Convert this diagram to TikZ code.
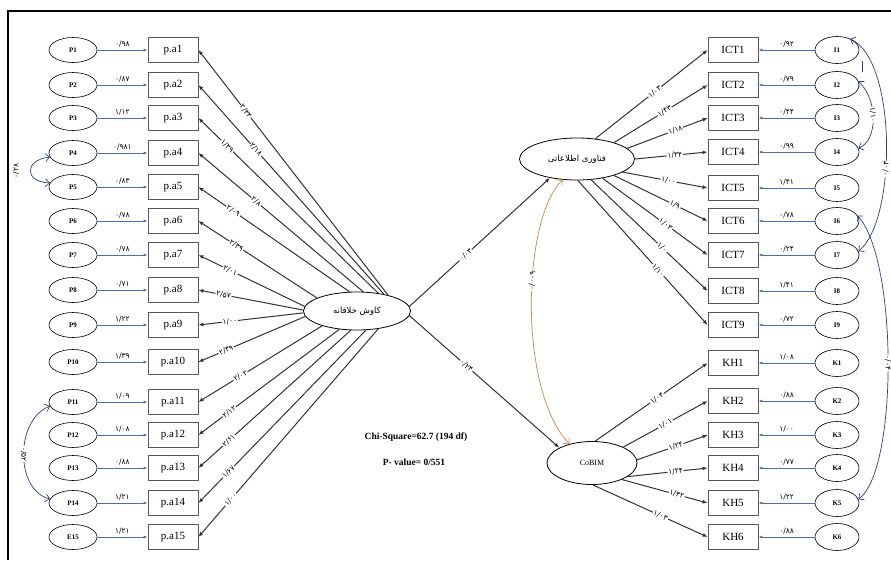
\documentclass[tikz,border=0pt]{standalone}
\usepackage{fontspec}
\setmainfont{Liberation Serif}
\newfontfamily\fa[Script=Arabic]{DejaVu Sans}
\TeXXeTstate=1
\usetikzlibrary{shapes.geometric,arrows.meta}
\definecolor{errblue}{HTML}{4A6FA8}
\definecolor{covblue}{HTML}{2E3F80}
\definecolor{covorange}{HTML}{C9854A}
\definecolor{lineg}{HTML}{333333}
\tikzset{
 err/.style={ellipse,draw=black,line width=0.6pt,minimum width=48pt,minimum height=25pt,inner sep=0pt,font=\fontsize{7}{8}\selectfont\bfseries},
 rerr/.style={err,minimum width=44pt,minimum height=27pt},
 obs/.style={rectangle,draw=black!65,line width=0.8pt,minimum width=50pt,minimum height=25pt,inner sep=0pt,font=\fontsize{11}{12}\selectfont},
 latent/.style={ellipse,draw=black,line width=0.8pt,inner sep=0pt,font=\fa\fontsize{8.5}{9}\selectfont},
 errarr/.style={draw=errblue,line width=0.8pt,-{Latex[length=4pt,width=3pt]}},
 load/.style={draw=lineg,line width=1pt,-{Latex[length=5pt,width=4pt]}},
 coef/.style={font=\fa\fontsize{7.5}{8}\selectfont,inner sep=0.8pt},
 lcoef/.style={coef,fill=white,sloped},
 cov/.style={draw=covblue,line width=0.7pt,{Straight Barb[length=4pt]}-{Straight Barb[length=4pt]}},
 ocov/.style={draw=covorange,line width=0.7pt,{Straight Barb[length=4pt]}-{Straight Barb[length=4pt]}},
}
\newcommand\lrow[7]{%
 \node[err] (e#1) at (73,#2) {#3};
 \node[obs] (pa#1) at (173,#2) {p.a#1};
 \draw[errarr] (e#1) -- node[coef,above=1.5pt]{#4} (pa#1);
 \draw[load] (cpl.#6) -- node[lcoef,pos=#7]{#5} (pa#1.east);
}
\newcommand\rrow[8]{%
 \node[obs] (#1) at (733,#2) {#1};
 \node[rerr] (r#1) at (837,#2) {#3};
 \draw[errarr] (r#1) -- node[coef,above=1.5pt]{#4} (#1);
 \draw[load] (#6.#7) -- node[lcoef,pos=#8]{#5} (#1.west);
}
\begin{document}
\begin{tikzpicture}[x=1pt,y=-1pt]
\useasboundingbox (0,0) rectangle (891,560);
\fill[white] (0,0) rectangle (891,560);
\draw[line width=1.6pt] (8,560) -- (8,11) -- (891,11);

\node[latent,minimum width=107pt,minimum height=38pt] (cpl) at (357,311) {\beginR کاوش خلاقانه\endR};
\node[latent,minimum width=115pt,minimum height=42pt] (ict) at (577,159) {\beginR فناوری اطلاعاتی\endR};
\node[latent,minimum width=90pt,minimum height=43pt,font=\fontsize{8}{9}\selectfont] (kh) at (592,463) {CoBIM};

\lrow{1}{50}{P1}{۰/۹۸}{۲/۳۴}{27}{0.75}
\lrow{2}{85}{P2}{۰/۸۷}{۲/۱۸}{32}{0.69}
\lrow{3}{118}{P3}{۱/۱۲}{۱/۳۹}{40}{0.84}
\lrow{4}{153}{P4}{۰/۹۸۱}{۲/۸}{72}{0.65}
\lrow{5}{187}{P5}{۰/۸۳}{۲/۰۹}{111}{0.77}
\lrow{6}{221}{P6}{۰/۷۸}{۲/۳۹}{162}{0.68}
\lrow{7}{255}{P7}{۰/۷۸}{۲/۰۱}{175}{0.70}
\lrow{8}{290}{P8}{۰/۷۱}{۲/۵۷}{179}{0.76}
\lrow{9}{325}{P9}{۱/۲۲}{۱/۰۰}{182}{0.70}
\lrow{10}{362}{P10}{۱/۳۹}{۲/۳۹}{186}{0.74}
\lrow{11}{402}{P11}{۱/۰۹}{۲/۰۲}{203}{0.66}
\lrow{12}{435}{P12}{۱/۰۸}{۲/۱۲}{226}{0.78}
\lrow{13}{468}{P13}{۰/۸۸}{۲/۶۱}{252}{0.80}
\lrow{14}{503}{P14}{۱/۲۱}{۱/۶۷}{295}{0.82}
\lrow{15}{537}{E15}{۱/۲۱}{۱/۰۰}{320}{0.82}

\rrow{ICT1}{50}{I1}{۰/۹۲}{۱/۰۳}{ict}{48}{0.53}
\rrow{ICT2}{85}{I2}{۰/۷۹}{۱/۴۳}{ict}{24}{0.54}
\rrow{ICT3}{118}{I3}{۰/۴۴}{۱/۱۸}{ict}{12}{0.60}
\rrow{ICT4}{152}{I4}{۰/۹۹}{۱/۳۴}{ict}{0}{0.55}
\rrow{ICT5}{188}{I5}{۱/۴۱}{۱/۰۰}{ict}{-16}{0.54}
\rrow{ICT6}{221}{I6}{۰/۷۸}{۱/۹}{ict}{-24}{0.65}
\rrow{ICT7}{255}{I7}{۰/۲۴}{۱/۰۳}{ict}{-37}{0.60}
\rrow{ICT8}{291}{I8}{۱/۴۱}{۱/۰}{ict}{-56}{0.61}
\rrow{ICT9}{325}{I9}{۰/۷۲}{۱/۱۰}{ict}{-88}{0.62}
\rrow{KH1}{363}{K1}{۱/۰۸}{۱/۰۴}{kh}{82}{0.55}
\rrow{KH2}{401}{K2}{۰/۸۸}{۱/۰۱}{kh}{27}{0.50}
\rrow{KH3}{435}{K3}{۱/۰۰}{۱/۲۴}{kh}{4}{0.55}
\rrow{KH4}{468}{K4}{۰/۷۷}{۱/۲۴}{kh}{-21}{0.60}
\rrow{KH5}{503}{K5}{۱/۲۲}{۱/۳۲}{kh}{-29}{0.64}
\rrow{KH6}{537}{K6}{۰/۸۸}{۱/۰۳}{kh}{-88}{0.59}

\draw[load] (cpl.5) -- node[lcoef,pos=0.4]{۰/۰۳} (ict.215);
\draw[load] (cpl.-5) -- node[lcoef,pos=0.38]{۰/۲۴} (kh.155);
\draw[ocov] (ict.235) .. controls (522,220) and (518,390) .. node[lcoef,pos=0.42]{۰/۰۰۹} (kh.140);

\draw[cov] (e4.190) .. controls (24,160) and (24,182) .. (e5.170);
\node[coef,rotate=90] (c45) at (16,171) {۰/۲۸};
\draw[cov] (e11.190) .. controls (15,420) and (15,490) .. node[lcoef,pos=0.5]{۰/۵۲} (e14.170);

\draw[cov] (rICT1.40) .. controls (897,60) and (897,220) .. node[lcoef,pos=0.6]{۰/۰۳} (rICT7.10);
\draw[cov] (rICT2.10) .. controls (878,100) and (878,140) .. node[lcoef,pos=0.45]{۱/۱۰} (rICT4.10);
\draw[covblue,line width=0.7pt] (862,61) -- (862,72);
\draw[cov] (rICT6.15) .. controls (898,260) and (898,470) .. node[lcoef,pos=0.5]{۰/۰۴} (rKH5.10);

\node[font=\bfseries\fontsize{9.5}{11}\selectfont] (chi) at (416,437) {Chi-Square=62.7 (194 df)};
\node[font=\bfseries\fontsize{9.5}{11}\selectfont] (pval) at (414,462) {P- value= 0/551};
\end{tikzpicture}
\end{document}
